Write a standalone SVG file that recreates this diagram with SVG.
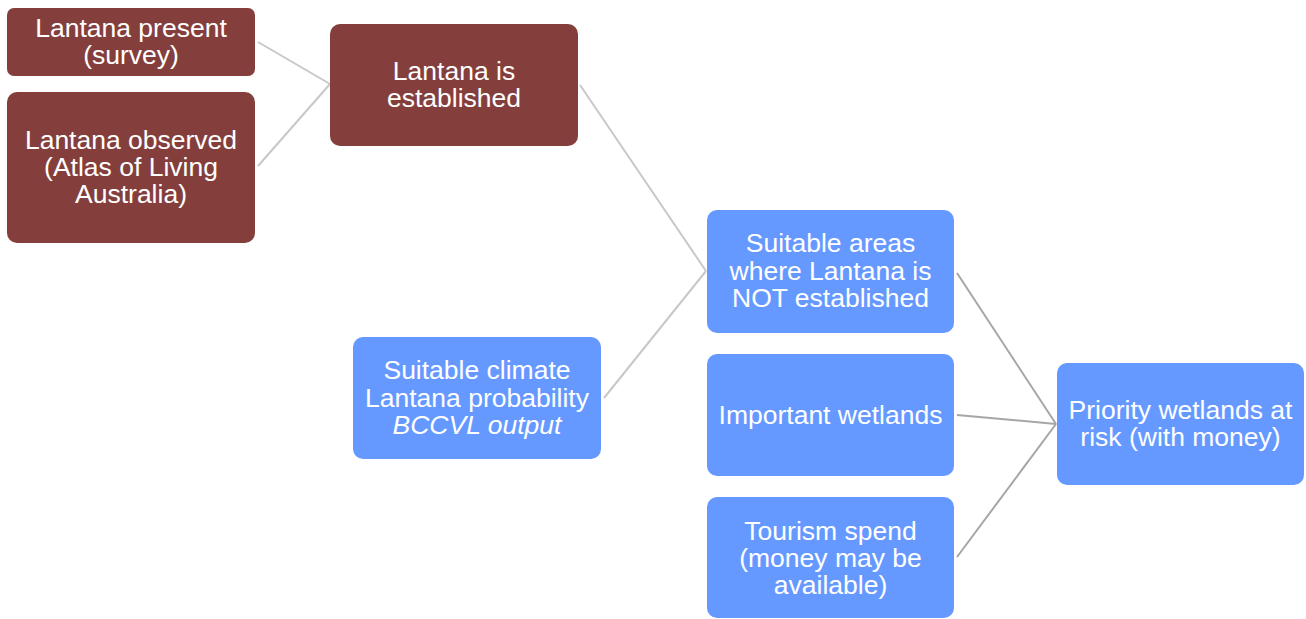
<svg xmlns="http://www.w3.org/2000/svg" width="1306" height="619" viewBox="0 0 1306 619">
<style>
.brown{fill:#843F3D}
.blue{fill:#6699FF}
text{font-family:"Liberation Sans",Arial,sans-serif;font-size:26.5px;fill:#FFFFFF;text-anchor:middle}
.c1{stroke:#C8C8C8;stroke-width:2;fill:none}
.c2{stroke:#A6A6A6;stroke-width:2;fill:none}
</style>
<rect width="1306" height="619" fill="#FFFFFF"/>
<g id="connectors">
<line class="c1" x1="258" y1="42" x2="330" y2="84"/>
<line class="c1" x1="258" y1="166" x2="330" y2="84"/>
<line class="c1" x1="580" y1="85" x2="706" y2="271"/>
<line class="c1" x1="604" y1="398" x2="706" y2="271"/>
<line class="c2" x1="957" y1="273" x2="1056" y2="424"/>
<line class="c2" x1="957" y1="415" x2="1056" y2="424"/>
<line class="c2" x1="957" y1="557" x2="1056" y2="424"/>
</g>
<g id="n1"><rect class="brown" x="7" y="8" width="248" height="68" rx="7"/>
<text x="131" y="37">Lantana present</text><text x="131" y="64">(survey)</text></g>
<g id="n2"><rect class="brown" x="7" y="92" width="248" height="151" rx="10"/>
<text x="131" y="149">Lantana observed</text><text x="131" y="176">(Atlas of Living</text><text x="131" y="203">Australia)</text></g>
<g id="n3"><rect class="brown" x="330" y="24" width="248" height="122" rx="10"/>
<text x="454" y="80">Lantana is</text><text x="454" y="107">established</text></g>
<g id="n4"><rect class="blue" x="707" y="210" width="247" height="123" rx="10"/>
<text x="830.5" y="252">Suitable areas</text><text x="830.5" y="280">where Lantana is</text><text x="830.5" y="307">NOT established</text></g>
<g id="n5"><rect class="blue" x="353" y="337" width="248" height="122" rx="10"/>
<text x="477" y="379">Suitable climate</text><text x="477" y="407">Lantana probability</text><text x="477" y="434" font-style="italic">BCCVL output</text></g>
<g id="n6"><rect class="blue" x="707" y="354" width="247" height="122" rx="10"/>
<text x="830.5" y="424">Important wetlands</text></g>
<g id="n7"><rect class="blue" x="707" y="497" width="247" height="121" rx="10"/>
<text x="830.5" y="540">Tourism spend</text><text x="830.5" y="567">(money may be</text><text x="830.5" y="594">available)</text></g>
<g id="n8"><rect class="blue" x="1057" y="363" width="247" height="122" rx="10"/>
<text x="1180.5" y="419">Priority wetlands at</text><text x="1180.5" y="446">risk (with money)</text></g>
</svg>
